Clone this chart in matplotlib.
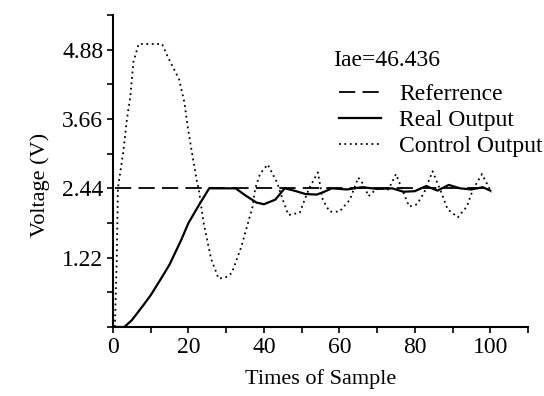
#!/bin/python

import numpy as np
import matplotlib
matplotlib.use("Agg")
import matplotlib.pyplot as plt
from matplotlib.ticker import MultipleLocator


# Reference voltage (constant set point).
ref_x = [0.5, 100]
ref_y = [2.44, 2.44]

# Real output.
real_x = [0, 3, 5, 8, 10, 13, 15, 18, 20, 23, 25.5, 30, 32.5, 35, 38, 40, 43,
          45.5, 48, 51, 54, 56, 58, 62, 66, 70, 74, 77, 80, 83, 86, 89, 92,
          95, 98, 100]
real_y = [0, 0, 0.12, 0.38, 0.56, 0.88, 1.1, 1.52, 1.83, 2.17, 2.44, 2.44,
          2.44, 2.32, 2.19, 2.16, 2.24, 2.44, 2.4, 2.34, 2.33, 2.38, 2.44,
          2.42, 2.46, 2.43, 2.44, 2.38, 2.39, 2.48, 2.4, 2.5, 2.44, 2.42,
          2.46, 2.4]

# Control output.
ctrl_x = [0.5, 1.0, 1.3, 2.7, 3.7, 4.6, 5.4, 6.8, 13, 14.4, 17.5, 18.9, 19.9,
          21.1, 22.3, 22.7, 24, 26, 28, 30, 31.5, 34, 37, 37.7, 39, 41, 43.5,
          45, 46.5, 49.5, 50.8, 52, 54.3, 55.6, 57.4, 60, 62.8, 65, 66.5,
          67.7, 70, 73, 75, 77.2, 78.5, 80.6, 82.5, 84.7, 87, 88.7, 91.4,
          93.8, 95.4, 97.8, 100.3]
ctrl_y = [0, 1.2, 2.44, 3.07, 3.66, 4.06, 4.66, 4.98, 4.98, 4.77, 4.36, 3.96,
          3.48, 3.0, 2.54, 2.44, 1.84, 1.2, 0.85, 0.88, 0.95, 1.41, 2.12,
          2.44, 2.7, 2.86, 2.54, 2.24, 1.97, 2.01, 2.24, 2.44, 2.72, 2.24,
          2.03, 2.03, 2.24, 2.63, 2.5, 2.3, 2.44, 2.42, 2.69, 2.33, 2.12,
          2.16, 2.37, 2.74, 2.37, 2.07, 1.93, 2.12, 2.42, 2.69, 2.37]

iae = 46.436


def plot_response():
    plt.rcParams['font.family'] = ['Liberation Serif', 'DejaVu Serif']
    plt.rcParams['font.size'] = 16

    fig = plt.figure(figsize=(5.44, 3.96), dpi=100)
    ax = fig.add_axes([113/544, 69/396, 415/544, 312/396])

    ax.plot(ref_x, ref_y, c='k', lw=1.3, linestyle=(0, (9, 4)),
            label="Referrence")
    ax.plot(real_x, real_y, c='k', lw=1.6, label="Real Output")
    ax.plot(ctrl_x, ctrl_y, c='k', lw=1.3, linestyle=(0, (1, 2)),
            label="Control Output")

    ax.set_xlim(0, 110)
    ax.set_ylim(0, 5.49)
    ax.xaxis.set_minor_locator(MultipleLocator(10))
    ax.set_xticks([0, 20, 40, 60, 80, 100])
    ax.set_yticks([1.22, 2.44, 3.66, 4.88])
    ax.set_yticklabels(["1.22", "2.44", "3.66", "4.88"])
    ax.yaxis.set_minor_locator(MultipleLocator(0.61))
    ax.tick_params(which='both', direction='out', length=4, width=1.2,
                   pad=3, labelsize=17)
    for s in ('top', 'right'):
        ax.spines[s].set_visible(False)
    for s in ('left', 'bottom'):
        ax.spines[s].set_linewidth(1.5)

    ax.set_xlabel("Times of Sample", labelpad=8)
    ax.set_ylabel("Voltage (V)")
    ax.yaxis.set_label_coords(-0.152, 0.455)

    fig.text(333/544, 1 - 60/396, "Iae=%.3f" % iae, va='center', ha='left',
             fontsize=17)
    ax.legend(loc='upper left', bbox_to_anchor=(327/544, 1 - 72/396),
              bbox_transform=fig.transFigure, frameon=False, fontsize=17,
              borderpad=0, handlelength=1.8, handletextpad=0.75,
              labelspacing=0.19)
    fig.savefig("out.png", dpi=100)


if __name__ == "__main__":
    plot_response()
